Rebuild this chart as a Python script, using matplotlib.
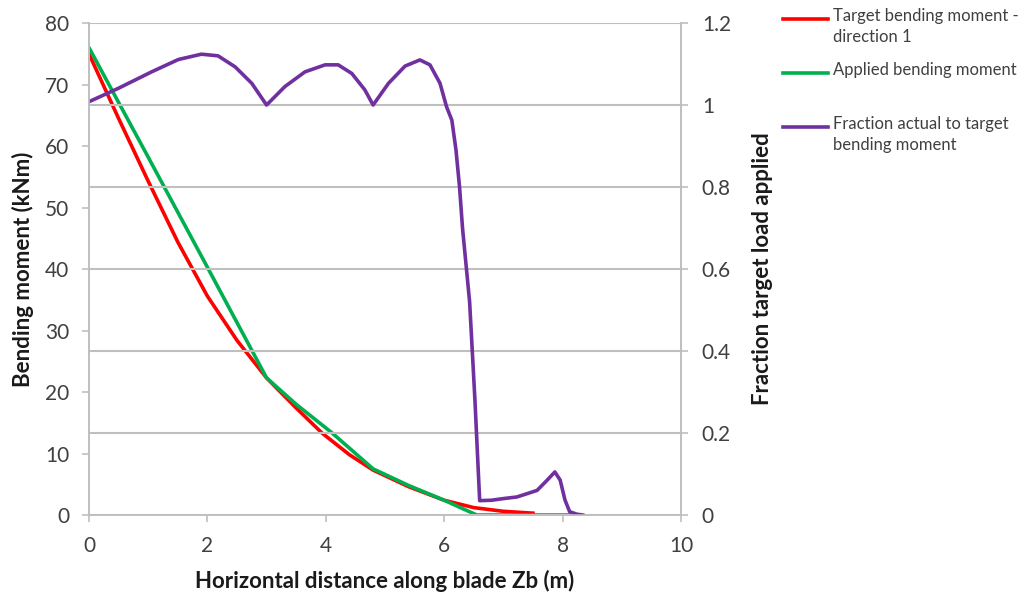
import matplotlib
matplotlib.use('Agg')
import matplotlib.pyplot as plt
from matplotlib.lines import Line2D

plt.rcParams['font.family'] = ['Lato', 'DejaVu Sans']

# target bending moment (kNm)
target_x = [0, 0.5, 1.0, 1.5, 2.0, 2.5, 3.0, 3.5, 3.94, 4.4, 4.8, 5.4, 6.0, 6.5, 7.0, 7.5]
target_y = [75, 64.5, 54.3, 44.4, 35.6, 28.4, 22.3, 17.4, 13.3, 9.8, 7.3, 4.6, 2.4, 1.2, 0.6, 0.3]

# applied bending moment (kNm)
applied_x = [0, 1.0, 2.0, 3.0, 3.5, 4.1, 4.8, 5.4, 6.0, 6.55, 7.0, 8.12]
applied_y = [76, 58.2, 40.3, 22.3, 18.0, 13.4, 7.5, 4.8, 2.4, 0, 0, 0]

# fraction actual to target
frac_x = [0.0, 0.5, 1.06, 1.51, 1.90, 2.18, 2.47, 2.75, 3.0, 3.31, 3.65, 3.99, 4.21, 4.44,
          4.66, 4.8, 5.06, 5.34, 5.59, 5.76, 5.93, 6.04, 6.13, 6.2, 6.26, 6.31, 6.37, 6.43,
          6.52, 6.6, 6.8, 7.0, 7.23, 7.57, 7.74, 7.87, 7.96, 8.04, 8.12, 8.24, 8.34]
frac_y = [1.008, 1.041, 1.081, 1.111, 1.124, 1.12, 1.093, 1.053, 1.0, 1.045, 1.081, 1.098,
          1.098, 1.077, 1.037, 1.0, 1.053, 1.095, 1.11, 1.098, 1.053, 0.996, 0.963, 0.89,
          0.80, 0.70, 0.61, 0.52, 0.28, 0.035, 0.036, 0.04, 0.044, 0.06, 0.085, 0.105,
          0.085, 0.037, 0.008, 0.002, 0.0]

labels = ['Target bending moment -\ndirection 1', 'Applied bending moment',
          'Fraction actual to target\nbending moment']
colors = ['#ff0000', '#00b050', '#7030a0']
grey = '#bfbfbf'
text_c = '#404040'

fig = plt.figure(figsize=(10.26, 5.98), dpi=100)
ax = fig.add_axes([0.0867, 0.1388, 0.577, 0.8227])
ax2 = ax.twinx()

ax.plot(target_x, target_y, color=colors[0], lw=2.6, solid_joinstyle='round')
ax.plot(applied_x, applied_y, color=colors[1], lw=2.6, solid_joinstyle='round')
ax2.plot(frac_x, frac_y, color=colors[2], lw=2.6, solid_joinstyle='round')

ax.set_xlim(0, 10)
ax.set_ylim(0, 80)
ax2.set_ylim(0, 1.2)
ax.set_xticks(range(0, 11, 2))
ax.set_yticks(range(0, 81, 10))
ax2.set_yticks([0, 0.2, 0.4, 0.6, 0.8, 1.0, 1.2])
ax2.set_yticklabels(['0', '0.2', '0.4', '0.6', '0.8', '1', '1.2'])

ax2.grid(axis='y', color=grey, lw=1.5)
ax.set_axisbelow(True)
for a in (ax, ax2):
    a.spines['top'].set_visible(False)
    for s in ('left', 'right', 'bottom'):
        a.spines[s].set_color(grey)
        a.spines[s].set_linewidth(1.2)
    a.tick_params(colors=grey, labelcolor=text_c, labelsize=15, length=5, width=1.2)
ax.tick_params(axis='y', pad=9)
ax.tick_params(axis='x', pad=10)
ax2.tick_params(axis='y', pad=10)

ax.set_xlabel('Horizontal distance along blade Zb (m)', fontsize=16, fontweight='bold',
              labelpad=10, color='#1a1a1a')
ax.set_ylabel('Bending moment (kNm)', fontsize=16, fontweight='bold', labelpad=8,
              color='#1a1a1a')
ax2.set_ylabel('Fraction target load applied', fontsize=16, fontweight='bold', labelpad=15,
               color='#1a1a1a')

# legend drawn at the right of the plot
W, H = 1026, 598
for i, (lab, c) in enumerate(zip(labels, colors)):
    ypix = 19 + 54 * i
    fig.add_artist(Line2D([783 / W, 828 / W], [1 - ypix / H] * 2, color=c, lw=2.6,
                          transform=fig.transFigure))
    fig.text(833 / W, 1 - (ypix - 11) / H, lab, fontsize=12, color=text_c,
             va='top', ha='left', linespacing=1.35)

fig.savefig('out.png', dpi=100)
